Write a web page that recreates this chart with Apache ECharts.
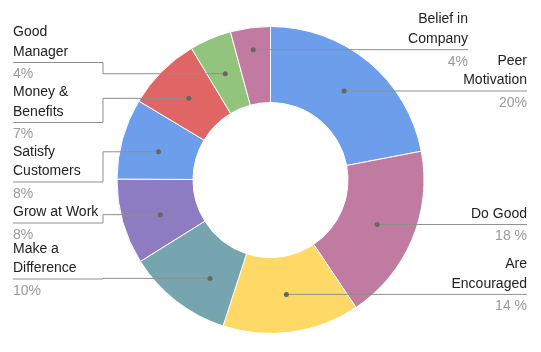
<!DOCTYPE html>
<html>
<head>
<meta charset="utf-8">
<script src="https://cdn.jsdelivr.net/npm/echarts@6/dist/echarts.min.js"></script>
<style>
  html, body { margin: 0; padding: 0; background: #fff; }
  #main { width: 541px; height: 352px; }
</style>
</head>
<body>
<div id="main"></div>
<script>
// slices, clockwise from 12 o'clock
const names = ['Peer\nMotivation', 'Do Good', 'Are\nEncouraged', 'Make a\nDifference', 'Grow at Work',
  'Satisfy\nCustomers', 'Money &\nBenefits', 'Good\nManager', 'Belief in\nCompany'];
const shares = [22, 18.6, 14.4, 11.1, 9.0, 8.5, 7.8, 4.4, 4.2];
const pctLabels = ['20%', '18 %', '14 %', '10%', '8%', '8%', '7%', '4%', '4%'];
const colors = ['#6d9eeb', '#c27ba0', '#ffd966', '#76a5af', '#8e7cc3', '#6d9eeb', '#e06666', '#93c47d', '#c27ba0'];

// label placement (which side, where the line ends, left-side underline heights)
const sides = ['right', 'right', 'right', 'left', 'left', 'left', 'left', 'left', 'right'];
const lineEndX = [527, 527, 527, 13, 13, 13, 13, 13, 468];
const leftLineY = [null, null, null, 279, 223, 182, 122.5, 62.5, null];
// where the dot sits inside its slice (fraction of the angle / of the ring width)
const dotAngleFrac = [0.5, 0.5, 0.5, 0.34, 0.45, 0.45, 0.5, 0.5, 0.5];
const dotRadiusFrac = [0.5, 0.5, 0.5, 0.5, 0.5, 0.5, 0.5, 0.5, 0.71];
const stepX = 103;
const LINE_H = 19.5;
const CENTER = [270.5, 180];
const RADIUS = [77.5, 153.5];

const chart = echarts.init(document.getElementById('main'));

function dotPoint(i) {
  const lay = chart.getModel().getSeriesByIndex(0).getData().getItemLayout(i);
  const a = lay.startAngle + (lay.endAngle - lay.startAngle) * dotAngleFrac[i];
  const r = lay.r0 + (lay.r - lay.r0) * dotRadiusFrac[i];
  return [lay.cx + r * Math.cos(a), lay.cy + r * Math.sin(a)];
}

const ringBase = {
  type: 'pie',
  center: CENTER,
  radius: RADIUS,
  startAngle: 90,
  clockwise: true,
  avoidLabelOverlap: false,
  emphasis: { disabled: true }
};

chart.setOption({
  animation: false,
  backgroundColor: '#fff',
  series: [
    {
      // the coloured ring
      ...ringBase,
      z: 2,
      itemStyle: { borderColor: '#fff', borderWidth: 1 },
      label: { show: false },
      labelLine: { show: false },
      data: names.map((n, i) => ({ name: n, value: shares[i], itemStyle: { color: colors[i] } }))
    },
    {
      // labels + leader lines, drawn above the ring
      ...ringBase,
      z: 3,
      silent: true,
      itemStyle: { color: 'rgba(0,0,0,0)', borderWidth: 0 },
      label: {
        show: true,
        position: 'outside',
        width: 160,
        formatter: (p) =>
          p.name.split('\n').map((s) => '{n|' + s + '}').join('\n') + '\n{p|' + pctLabels[p.dataIndex] + '}',
        rich: {
          n: { fontFamily: 'Liberation Sans', fontSize: 14, lineHeight: LINE_H, color: '#222' },
          p: { fontFamily: 'Liberation Sans', fontSize: 14, lineHeight: 26, color: '#9a9a9a' }
        }
      },
      labelLine: { show: true, length: 10, length2: 10, smooth: false, lineStyle: { color: '#8f8f8f', width: 1 } },
      labelLayout: (params) => {
        const i = params.dataIndex;
        const [dx, dy] = dotPoint(i);
        const nLines = names[i].split('\n').length;
        if (sides[i] === 'right') {
          return {
            x: lineEndX[i],
            y: dy - 20.5 - LINE_H * (nLines - 1),
            align: 'right',
            verticalAlign: 'top',
            labelLinePoints: [[dx, dy], [lineEndX[i], dy]]
          };
        }
        const uy = leftLineY[i];
        return {
          x: lineEndX[i],
          y: uy - 20.5 - LINE_H * (nLines - 1),
          align: 'left',
          verticalAlign: 'top',
          labelLinePoints: [[dx, dy], [stepX, dy], [stepX, uy], [lineEndX[i], uy]]
        };
      },
      data: names.map((n, i) => ({ name: n, value: shares[i] }))
    },
    {
      // dots where the leader lines start
      ...ringBase,
      z: 4,
      silent: true,
      itemStyle: { color: 'rgba(0,0,0,0)', borderWidth: 0 },
      label: {
        show: true,
        position: 'inside',
        formatter: '{d|}',
        rich: { d: { width: 5, height: 5, borderRadius: 2.5, backgroundColor: '#666' } }
      },
      labelLine: { show: false },
      labelLayout: (params) => {
        const [dx, dy] = dotPoint(params.dataIndex);
        return { x: dx, y: dy, align: 'center', verticalAlign: 'middle' };
      },
      data: names.map((n, i) => ({ name: n, value: shares[i] }))
    }
  ]
});
</script>
</body>
</html>
